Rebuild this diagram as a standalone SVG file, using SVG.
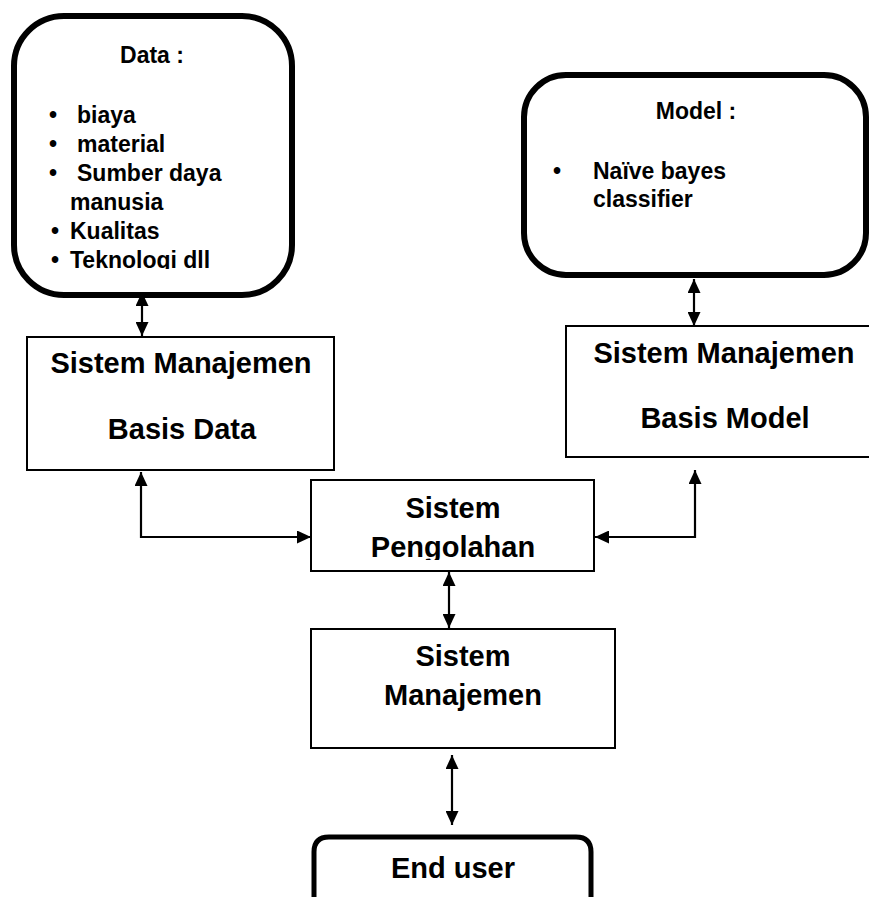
<svg xmlns="http://www.w3.org/2000/svg" width="869" height="897" viewBox="0 0 869 897">
<style>
text{font-family:"Liberation Sans",Arial,sans-serif;font-weight:bold;fill:#000}
.big{font-size:29px;text-anchor:middle}
.hd{font-size:23px;text-anchor:middle}
.it{font-size:23px}
.rbox{fill:#fff;stroke:#000;stroke-width:6}
.box{fill:#fff;stroke:#000;stroke-width:2}
.conn{fill:none;stroke:#000;stroke-width:2.2;marker-start:url(#ah);marker-end:url(#ah)}
</style>
<defs>
<marker id="ah" markerUnits="userSpaceOnUse" markerWidth="15" markerHeight="13" refX="14" refY="6.5" orient="auto-start-reverse">
<path d="M0,0 L14,6.5 L0,13 z" fill="#000"/>
</marker>
<clipPath id="clipData"><rect x="0" y="0" width="320" height="269"/></clipPath>
<clipPath id="clipSP"><rect x="300" y="470" width="310" height="90"/></clipPath>
</defs>

<g id="data">
<rect class="rbox" x="14" y="16" width="278" height="279" rx="50" ry="50"/>
<text class="hd" x="152" y="63">Data :</text>
<text class="it" x="49" y="123">•</text><text class="it" x="77" y="123">biaya</text>
<text class="it" x="49" y="152">•</text><text class="it" x="77" y="152">material</text>
<text class="it" x="49" y="181">•</text><text class="it" x="77" y="181">Sumber daya</text>
<text class="it" x="70" y="210">manusia</text>
<text class="it" x="51" y="239">•</text><text class="it" x="70" y="239">Kualitas</text>
<g clip-path="url(#clipData)"><text class="it" x="51" y="268">•</text><text class="it" x="70" y="268">Teknologi dll</text></g>
</g>

<g id="model">
<rect class="rbox" x="524" y="75" width="342" height="200" rx="42" ry="42"/>
<text class="hd" x="696" y="119">Model :</text>
<text class="it" x="553" y="179">•</text>
<text class="it" x="593" y="179">Naïve bayes</text>
<text class="it" x="593" y="207">classifier</text>
</g>

<g id="smbd">
<rect class="box" x="27" y="337" width="307" height="133"/>
<text class="big" x="181" y="373">Sistem Manajemen</text>
<text class="big" x="182" y="439">Basis Data</text>
</g>

<g id="smbm">
<rect class="box" x="566" y="326" width="320" height="131"/>
<text class="big" x="724" y="363">Sistem Manajemen</text>
<text class="big" x="725" y="428">Basis Model</text>
</g>

<g id="sp">
<rect class="box" x="311" y="480" width="283" height="91"/>
<text class="big" x="453" y="518">Sistem</text>
<g clip-path="url(#clipSP)"><text class="big" x="453" y="557">Pengolahan</text></g>
</g>

<g id="sm">
<rect class="box" x="311" y="629" width="304" height="119"/>
<text class="big" x="463" y="666">Sistem</text>
<text class="big" x="463" y="705">Manajemen</text>
</g>

<g id="enduser">
<path d="M314,905 V852 Q314,837 329,837 H576 Q591,837 591,852 V905" fill="#fff" stroke="#000" stroke-width="5"/>
<text class="big" x="453" y="878">End user</text>
</g>

<g id="connectors">
<path class="conn" d="M142,292 V336"/>
<path class="conn" d="M141,472 V537 H311"/>
<path class="conn" d="M694,279 V326"/>
<path class="conn" d="M695,470 V537 H595"/>
<path class="conn" d="M449,572 V628"/>
<path class="conn" d="M452,755 V825"/>
</g>
</svg>
